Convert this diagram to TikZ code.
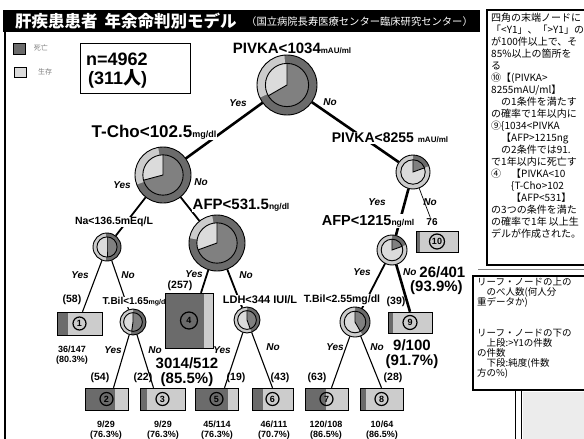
\documentclass[tikz,border=0pt]{standalone}
\usepackage{fontspec}
\setmainfont{Liberation Sans}
\newfontfamily\jp{Noto Sans CJK JP}
\usetikzlibrary{calc}
\definecolor{darkc}{gray}{0.42}
\definecolor{lightc}{gray}{0.80}
\definecolor{darkin}{gray}{0.50}
\definecolor{lightin}{gray}{0.86}
\newcommand\fs[1]{\fontsize{#1}{#1}\selectfont}
\pgfdeclarelayer{bglayer}
\pgfdeclarelayer{edgelayer}
\pgfsetlayers{bglayer,edgelayer,main}
% pie: name, x, y, r, outer light start, outer light end, inner light start, inner light end
\newcommand\mypie[8]{%
 \pgfmathsetmacro\pieri{#4*0.72}%
 \fill[darkc] (#2,#3) circle[radius=#4pt];
 \fill[lightc] (#2,#3) -- ++(#5:#4pt) arc[start angle=#5,end angle=#6,radius=#4pt] -- cycle;
 \fill[darkin] (#2,#3) circle[radius=\pieri pt];
 \fill[lightin] (#2,#3) -- ++(#7:\pieri pt) arc[start angle=#7,end angle=#8,radius=\pieri pt] -- cycle;
 \draw[line width=0.9pt] (#2,#3) circle[radius=#4pt];
 \draw[line width=0.9pt] (#2,#3) circle[radius=\pieri pt];
 \draw[line width=0.9pt] (#2,#3) ++(#7:\pieri pt) -- (#2,#3) -- ++(#8:\pieri pt);
 \node[circle,minimum size={2*#4*1pt},inner sep=0pt] (#1) at (#2,#3) {};
}
% leaf: name, x1, y1, x2, y2, dark end x, number, circle size
\newcommand\leaf[8]{%
 \fill[lightc] (#2,#3) rectangle (#4,#5);
 \fill[darkc] (#2,#3) rectangle (#6,#5);
 \draw[line width=0.9pt] (#2,#3) rectangle (#4,#5);
 \node[inner sep=0pt, minimum width={(#4-(#2))*1pt}, minimum height={((#3)-(#5))*1pt}] (#1) at ({(#2+#4)/2},{((#3)+(#5))/2}) {};
 \node[circle,draw,line width=1.2pt,inner sep=0pt,minimum size=#8,font=\bfseries\fs{9}] at (#1.center) {#7};
}
\tikzset{
 lab/.style={fill=white, inner sep=0.6pt, font=\bfseries},
 yn/.style={inner sep=0pt, font=\bfseries\itshape\fs{10}},
 cnt/.style={inner sep=0pt, font=\bfseries\fs{10.5}},
 frac/.style={inner sep=0pt, font=\bfseries\fs{9}, align=center},
 big/.style={inner sep=0pt, font=\bfseries\fs{15}},
 e1/.style={line width=2.6pt},
 e2/.style={line width=1.8pt},
 e3/.style={line width=1.1pt},
 e0/.style={line width=0.7pt}
}
\begin{document}
\begin{tikzpicture}[x=1pt,y=1pt]
\useasboundingbox (0,0) rectangle (584,-439);
\clip (0,0) rectangle (584,-439);
\begin{pgfonlayer}{bglayer}
\fill[white] (0,0) rectangle (584,-439);
\end{pgfonlayer}

% title bar
\fill[black] (3,-10) rectangle (480,-32);
\node[anchor=west, text=white, inner sep=0pt, font=\jp\bfseries\fs{16.5}] (title) at (15,-21) {肝疾患患者\hspace{7pt}年余命判別モデル};
\node[anchor=west, text=white, inner sep=0pt, font=\jp\fs{10.3}] (sub) at (246,-22) {（国立病院長寿医療センター臨床研究センター）};
\draw[line width=1.6pt] (5,-32) -- (5,-439);

% legend
\fill[darkc] (13,-43) rectangle (25,-54);
\draw[line width=0.6pt] (13,-43) rectangle (25,-54);
\fill[lightin] (14,-67) rectangle (26,-77);
\draw[line width=0.8pt] (14,-67) rectangle (26,-77);
\node[inner sep=0pt, text=gray, font=\jp\fs{7}] (lg1) at (41,-48) {死亡};
\node[inner sep=0pt, text=gray, font=\jp\fs{7}] (lg2) at (45,-72) {生存};

% n box
\draw[line width=0.8pt] (80,-43) rectangle (190,-93);
\node[anchor=west, inner sep=0pt, font=\bfseries\fs{18}] (n1) at (86,-59) {n=4962};
\node[anchor=west, inner sep=0pt, font=\bfseries\fs{18}] (n2) at (88,-79) {(311{\jp\bfseries 人})};

% split labels
\node[lab] (rootL) at (292,-48) {\fs{15}PIVKA<1034{\fs{8}mAU/ml}};
\node[lab] (tchoL) at (154,-132) {\fs{17}T-Cho<102.5{\fs{9}mg/dl}};
\node[lab] (p8255L) at (390,-138) {\fs{14}PIVKA<8255 {\fs{8}mAU/ml}};
\node[lab] (afp531L) at (241,-205) {\fs{15}AFP<531.5{\fs{8.5}ng/dl}};
\node[lab] (naL) at (114,-222) {\fs{10.5}Na<136.5mEq/L};
\node[lab] (tbil1L) at (135,-302) {\fs{10}T.Bil<1.65{\fs{7}mg/dl}};
\node[lab] (ldhL) at (260,-300) {\fs{11}LDH<344 IUI/L};
\node[lab] (tbil2L) at (342,-300) {\fs{10.5}T.Bil<2.55mg/dl};
\node[lab] (afp1215L) at (368,-221) {\fs{14.5}AFP<1215{\fs{8.5}ng/ml}};
\node[lab] (n76) at (432,-222) {\fs{10}76};

% pies
\mypie{root}{287}{-85}{30}{95}{205}{90}{210}
\mypie{tcho}{163}{-175}{28}{100}{200}{90}{195}
\mypie{p8255}{413}{-172}{17}{90}{380}{90}{380}
\mypie{afp531}{217}{-243}{28}{100}{170}{90}{200}
\mypie{na}{107}{-247}{14}{95}{265}{90}{270}
\mypie{tbil1}{133}{-322}{13}{90}{260}{90}{262}
\mypie{ldh}{247}{-320}{13}{90}{290}{90}{290}
\mypie{afp1215}{392}{-250}{15}{90}{380}{90}{380}
\mypie{tbil2}{355}{-322}{15}{90}{300}{90}{300}

% leaves
\leaf{b1}{57}{-312}{102}{-335}{68}{1}{13pt}
\leaf{b2}{85}{-388}{128}{-410}{115}{2}{13pt}
\leaf{b3}{140}{-388}{185}{-410}{147}{3}{13pt}
\leaf{b4}{165}{-293}{213}{-348}{204}{4}{17pt}
\leaf{b5}{195}{-388}{238}{-410}{228}{5}{13pt}
\leaf{b6}{252}{-388}{293}{-410}{263}{6}{13pt}
\leaf{b7}{305}{-388}{348}{-410}{326}{7}{13pt}
\leaf{b8}{360}{-388}{403}{-410}{366}{8}{13pt}
\leaf{b9}{388}{-312}{432}{-333}{393}{9}{14pt}
\leaf{b10}{416}{-231}{458}{-252}{420}{10}{15pt}

% yes / no
\node[yn] (y0) at (238,-103) {Yes};
\node[yn] (n0) at (330,-102) {No};
\node[yn] (y1) at (122,-185) {Yes};
\node[yn] (n1l) at (201,-182) {No};
\node[yn] (y2) at (377,-202) {Yes};
\node[yn] (n2l) at (430,-202) {No};
\node[yn] (y3) at (80,-275) {Yes};
\node[yn] (n3) at (128,-275) {No};
\node[yn] (y4) at (113,-350) {Yes};
\node[yn] (n4) at (155,-350) {No};
\node[yn] (y5) at (194,-274) {Yes};
\node[yn] (n5) at (246,-275) {No};
\node[yn] (y6) at (222,-350) {Yes};
\node[yn] (n6) at (273,-347) {No};
\node[yn] (y7) at (362,-272) {Yes};
\node[yn, anchor=west] (n7) at (403,-272) {No};
\node[yn] (y8) at (335,-347) {Yes};
\node[yn] (n8) at (377,-347) {No};

% counts
\node[cnt] (c58) at (72,-300) {(58)};
\node[cnt] (c257) at (180,-286) {(257)};
\node[cnt] (c54) at (100,-378) {(54)};
\node[cnt] (c22) at (143,-378) {(22)};
\node[cnt] (c19) at (236,-378) {(19)};
\node[cnt] (c43) at (280,-378) {(43)};
\node[cnt] (c63) at (317,-378) {(63)};
\node[cnt] (c28) at (393,-378) {(28)};
\node[cnt] (c39) at (396,-302) {(39)};

% fractions
\node[frac] (f1) at (72,-355) {36/147\\[1pt](80.3\%)};
\node[frac] (f2) at (106,-430) {9/29\\[1pt](76.3\%)};
\node[frac] (f3) at (163,-430) {9/29\\[1pt](76.3\%)};
\node[frac] (f5) at (217,-430) {45/114\\[1pt](76.3\%)};
\node[frac] (f6) at (274,-430) {46/111\\[1pt](70.7\%)};
\node[frac] (f7) at (326,-430) {120/108\\[1pt](86.5\%)};
\node[frac] (f8) at (382,-430) {10/64\\[1pt](86.5\%)};
\node[big] (g4a) at (187,-363) {3014/512};
\node[big] (g4b) at (187,-380) {(85.5\%)};
\node[big] (g9a) at (412,-345) {9/100};
\node[big] (g9b) at (412,-362) {(91.7\%)};
\node[big, anchor=west] (g10a) at (n7.east) {\,26/401};
\node[big, anchor=west] (g10b) at (410,-288) {(93.9\%)};

% right notes
\draw[line width=1.6pt, fill=white] (487,-10) rectangle (600,-265);
\node[anchor=north west, align=left, inner sep=0pt, font=\jp\fontsize{10}{12}\selectfont] (note1) at (491,-13) {%
四角の末端ノードに\\
「<Y1」、「>Y1」の\\
が100件以上で、そ\\
85\%以上の箇所を\\
る\\
⑩【(PIVKA>\\
8255mAU/ml】\\
　の1条件を満たす\\
の確率で1年以内に\\
⑨\{1034<PIVKA\\
　【AFP>1215ng\\
　の2条件では91.\\
で1年以内に死亡す\\
④　【PIVKA<10\\
　　\{T-Cho>102\\
　　【AFP<531】\\
の3つの条件を満た\\
の確率で1年 以上生\\
デルが作成された。};
\draw[line width=0.6pt, gray] (478,-269) -- (600,-269);
\draw[line width=1.3pt, fill=white] (473,-276) rectangle (600,-390);
\node[anchor=north west, align=left, inner sep=0pt, font=\jp\fontsize{9.5}{10.2}\selectfont] (note2) at (477,-277) {%
リーフ・ノードの上の\\
　のべ人数(何人分\\
重データか)\\
\mbox{}\\
\mbox{}\\
リーフ・ノードの下の\\
　上段:>Y1の件数\\
の件数\\
　下段:純度(件数\\
方の\%)};
\fill[gray!15] (523,-392) rectangle (600,-439);
\draw[line width=0.8pt] (515,-390) -- (515,-439);
\draw[line width=0.8pt] (521,-390) -- (521,-439);

% edges
\begin{pgfonlayer}{edgelayer}
\draw[e1] (root) -- (tcho);
\draw[e1] (root) -- (p8255);
\draw[e2] (tcho) -- (na);
\draw[e2] (tcho) -- (afp531);
\draw[e1] (p8255) -- (afp1215);
\draw[e0] (p8255) -- (n76);
\draw[e3] (na) -- ($(b1.north)+(3,0)$);
\draw[e3] (na) -- (tbil1);
\draw[e3] (tbil1) -- ($(b2.north)+(7,0)$);
\draw[e3] (tbil1) -- ($(b3.north)+(-9,0)$);
\draw[e2] (afp531) -- ($(b4.north)+(12,0)$);
\draw[e2] (afp531) -- (ldh);
\draw[e3] (ldh) -- ($(b5.north)+(8,0)$);
\draw[e3] (ldh) -- (b6.north);
\draw[e2] (afp1215) -- (tbil2);
\draw[e1] (afp1215) -- (b9.north);
\draw[e3] (tbil2) -- ($(b7.north)+(5,0)$);
\draw[e3] (tbil2) -- (b8.north);
\end{pgfonlayer}
\end{tikzpicture}
\end{document}
